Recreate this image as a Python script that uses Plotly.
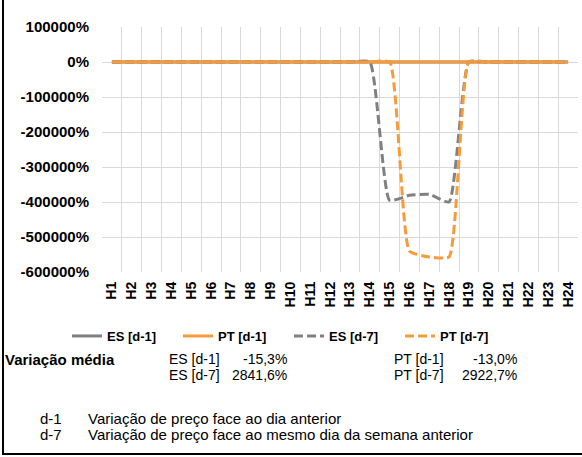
import plotly.graph_objects as go

hours = [f"H{i}" for i in range(1, 25)]

es_d1 = [-14, -16, -15, -17, -15, -14, -16, -15, -13, -15, -16, -17, -15, -14,
         -16, -15, -17, -16, -15, -14, -15, -16, -15, -15]
pt_d1 = [-12, -13, -14, -13, -12, -13, -14, -13, -12, -13, -13, -14, -13, -12,
         -14, -13, -12, -13, -14, -13, -12, -13, -13, -13]
es_d7 = [20, 15, 25, 30, 20, 10, 15, 20, 25, 30, 20, 15, 10, 20,
         -395000, -381000, -378000, -400000, 20, 25, 30, 20, 15, 20]
pt_d7 = [25, 20, 30, 25, 20, 15, 20, 25, 30, 25, 20, 15, 20, 25,
         25, -540000, -557000, -557000, 20, 25, 30, 25, 20, 25]

y_ticks = [100000, 0, -100000, -200000, -300000, -400000, -500000, -600000]
y_labels = [f"{v}%" for v in y_ticks]

series_names = ["ES [d-1]", "PT [d-1]", "ES [d-7]", "PT [d-7]"]
avg_labels = ["-15,3%", "-13,0%", "2841,6%", "2922,7%"]

GRAY = "#808080"
ORANGE = "#F79A3A"
FONT = "Liberation Sans, Arial, sans-serif"

W, H = 582, 457
ML, MR, MT, MB = 102, 4, 27, 185
PW, PH = W - ML - MR, H - MT - MB


def px(x):
    return (x - ML) / PW


def py(y):
    return (H - MB - y) / PH


fig = go.Figure()
styles = [(GRAY, "solid"), (ORANGE, "solid"), (GRAY, "9px,4px"), (ORANGE, "9px,4px")]
for name, vals, (col, dash) in zip(series_names, [es_d1, pt_d1, es_d7, pt_d7], styles):
    fig.add_trace(go.Scatter(
        x=hours, y=vals, name=name, mode="lines",
        line=dict(color=col, width=3, dash=dash, shape="spline", smoothing=0.45),
    ))

fig.update_layout(
    width=W, height=H,
    margin=dict(l=ML, r=MR, t=MT, b=MB),
    paper_bgcolor="white", plot_bgcolor="white",
    font=dict(family=FONT, size=13, color="black"),
    showlegend=True,
    legend=dict(
        orientation="h", x=px(67), y=py(336), xanchor="left", yanchor="middle",
        font=dict(family=FONT, size=13, weight="bold"),
        entrywidth=66, bgcolor="rgba(0,0,0,0)",
    ),
    xaxis=dict(
        type="category", range=[-0.5, 23.5], tickson="boundaries",
        showgrid=True, gridcolor="#d9d9d9", gridwidth=1,
        showline=False, zeroline=False, ticks="",
        tickangle=-90, tickfont=dict(family=FONT, size=14, weight="bold"),
        ticklabelstandoff=6,
    ),
    yaxis=dict(
        range=[-600000, 100000], tickvals=y_ticks, ticktext=y_labels,
        showgrid=True, gridcolor="#d9d9d9", gridwidth=1,
        zeroline=False, showline=False, ticks="",
        tickfont=dict(family=FONT, size=15, weight="bold"),
        ticklabelstandoff=12,
    ),
)

ann = []
ann.append(dict(text="<b>Variação média</b>", x=px(3), y=py(359), xanchor="left", size=15))
ann.append(dict(text=series_names[0], x=px(167), y=py(359), xanchor="left", size=14))
ann.append(dict(text=avg_labels[0], x=px(289), y=py(359), xanchor="right", size=14))
ann.append(dict(text=series_names[2], x=px(167), y=py(375), xanchor="left", size=14))
ann.append(dict(text=avg_labels[2], x=px(289), y=py(375), xanchor="right", size=14))
ann.append(dict(text=series_names[1], x=px(392), y=py(359), xanchor="left", size=14))
ann.append(dict(text=avg_labels[1], x=px(519), y=py(359), xanchor="right", size=14))
ann.append(dict(text=series_names[3], x=px(392), y=py(375), xanchor="left", size=14))
ann.append(dict(text=avg_labels[3], x=px(519), y=py(375), xanchor="right", size=14))
ann.append(dict(text="d-1", x=px(38), y=py(418), xanchor="left", size=15))
ann.append(dict(text="Variação de preço face ao dia anterior", x=px(86), y=py(418), xanchor="left", size=15))
ann.append(dict(text="d-7", x=px(38), y=py(434), xanchor="left", size=15))
ann.append(dict(text="Variação de preço face ao mesmo dia da semana anterior", x=px(86), y=py(434),
                xanchor="left", size=15))
for a in ann:
    s = a.pop("size")
    a.update(xref="paper", yref="paper", yanchor="middle", showarrow=False,
             font=dict(family=FONT, size=s, color="black"))
fig.update_layout(annotations=ann)

fig.update_layout(shapes=[
    dict(type="line", xref="paper", yref="paper", x0=px(3), x1=px(3), y0=py(0), y1=py(455),
         line=dict(color="black", width=2)),
    dict(type="line", xref="paper", yref="paper", x0=px(2), x1=px(582), y0=py(454), y1=py(454),
         line=dict(color="black", width=2)),
])

fig.write_html("out.html", config={"displayModeBar": False},
               post_script="document.body.style.margin='0px';document.body.style.overflow='hidden';")
